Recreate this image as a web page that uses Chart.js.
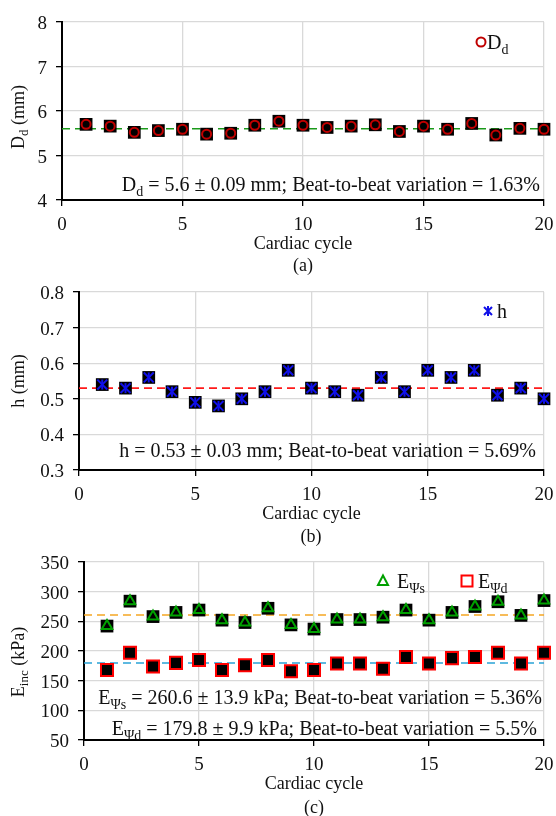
<!DOCTYPE html>
<html>
<head>
<meta charset="utf-8">
<script src="https://cdn.jsdelivr.net/npm/chart.js@4.4.1/dist/chart.umd.min.js"></script>
<style>
  html, body { margin: 0; padding: 0; background: #fff; }
  #page { position: relative; width: 556px; height: 816px; overflow: hidden;
          font-family: "Liberation Serif", "DejaVu Serif", serif; color: #111; }
  #page canvas { position: absolute; left: 0; }
  .lbl { position: absolute; font-size: 18px; line-height: 1; white-space: nowrap; }
  .lbl sub { font-size: 13px; vertical-align: -4px; line-height: 0; }
  .lbl.tick { font-size: 19px; }
  .lbl.note { font-size: 20px; }
  .lbl.note sub { font-size: 14px; vertical-align: -5px; }
  .mid { transform: translate(-50%, -50%); }
  .side { transform: translateY(-50%); }
  .ytitle { transform: translate(-50%, -50%) rotate(-90deg); }
  .key { position: absolute; transform: translate(-50%, -50%); }
</style>
</head>
<body>
<div id="page">
  <canvas id="chartA" width="556" height="254" style="top:0"></canvas>
  <canvas id="chartB" width="556" height="254" style="top:270px"></canvas>
  <canvas id="chartC" width="556" height="254" style="top:540px"></canvas>

  <!-- panel (a) -->
  <div class="lbl ytitle" style="left:18px;top:117px">D<sub>d</sub> (mm)</div>
  <svg class="key" style="left:481px;top:42px" width="14" height="14"><circle cx="7" cy="7" r="4.5" fill="#fff" stroke="#c00000" stroke-width="2"/></svg>
  <div class="lbl side note" style="left:487px;top:42px">D<sub>d</sub></div>
  <div class="lbl side note" id="noteA" style="right:16px;top:184px"></div>
  <div class="lbl mid" style="left:303px;top:265px">(a)</div>

  <!-- panel (b) -->
  <div class="lbl ytitle" style="left:18px;top:381px">h (mm)</div>
  <svg class="key" style="left:488px;top:311px" width="14" height="14"><path d="M3 3 L11 11 M11 3 L3 11 M7 2 L7 12" stroke="#1010e8" stroke-width="2"/></svg>
  <div class="lbl side note" style="left:497px;top:311px">h</div>
  <div class="lbl side note" id="noteB" style="right:20px;top:450px"></div>
  <div class="lbl mid" style="left:311px;top:536px">(b)</div>

  <!-- panel (c) -->
  <div class="lbl ytitle" style="left:18px;top:662px">E<sub>inc</sub> (kPa)</div>
  <svg class="key" style="left:383px;top:581px" width="16" height="16"><polygon points="8,2.5 13,12 3,12" fill="#fff" stroke="#00a000" stroke-width="2"/></svg>
  <div class="lbl side note" style="left:397px;top:581px">E<sub>&Psi;s</sub></div>
  <svg class="key" style="left:467px;top:581px" width="16" height="16"><rect x="2.5" y="2.5" width="11" height="11" fill="#fff" stroke="#ff0000" stroke-width="2"/></svg>
  <div class="lbl side note" style="left:478px;top:581px">E<sub>&Psi;d</sub></div>
  <div class="lbl side note" id="noteC1" style="right:14px;top:697px"></div>
  <div class="lbl side note" id="noteC2" style="right:19px;top:728px"></div>
  <div class="lbl mid" style="left:314px;top:807px">(c)</div>
</div>

<script>
// cardiac cycle index
const cycles = [1, 2, 3, 4, 5, 6, 7, 8, 9, 10, 11, 12, 13, 14, 15, 16, 17, 18, 19, 20];

// (a) diastolic diameter, mm
const diameter = [5.70, 5.66, 5.52, 5.56, 5.59, 5.48, 5.50, 5.68, 5.77, 5.68,
                  5.63, 5.66, 5.69, 5.54, 5.66, 5.59, 5.72, 5.46, 5.61, 5.59];
const diameterStats = { mean: 5.6, sd: 0.09, cv: 1.63 };

// (b) wall thickness, mm
const thickness = [0.54, 0.53, 0.56, 0.52, 0.49, 0.48, 0.50, 0.52, 0.58, 0.53,
                   0.52, 0.51, 0.56, 0.52, 0.58, 0.56, 0.58, 0.51, 0.53, 0.50];
const thicknessStats = { mean: 0.53, sd: 0.03, cv: 5.69 };

// (c) incremental modulus, kPa
const modulusSys = [242, 284, 258, 265, 269, 252, 248, 272, 244, 237,
                    253, 253, 257, 269, 252, 265, 275, 283, 260, 285];
const modulusDia = [168, 197, 174, 180, 185, 168, 176, 185, 166, 168,
                    179, 179, 170, 190, 179, 188, 190, 197, 179, 197];
const sysStats = { mean: 260.6, sd: 13.9, cv: 5.36 };
const diaStats = { mean: 179.8, sd: 9.9, cv: 5.5 };

const xTitle = 'Cardiac cycle';

const page = document.getElementById('page');
const points = (ys) => cycles.map((c, i) => ({ x: c, y: ys[i] }));
const meanLine = (v) => [{ x: 0, y: v }, { x: 20, y: v }];

function backing(ys) {
    return {
        data: points(ys),
        pointStyle: 'rect',
        pointRadius: 9,
        pointHoverRadius: 9,
        pointBackgroundColor: '#000',
        pointBorderWidth: 0,
        clip: false
    };
}

function marker(ys, style, color, radius, extra = {}) {
    return {
        data: points(ys),
        pointStyle: style,
        pointRadius: radius,
        pointHoverRadius: radius,
        pointBackgroundColor: '#000',
        pointBorderColor: color,
        pointBorderWidth: 2,
        clip: false,
        ...extra
    };
}

function dashed(value, color) {
    return {
        data: meanLine(value),
        showLine: true,
        borderColor: color,
        borderWidth: 1.6,
        borderDash: [8, 5],
        pointRadius: 0,
        pointHoverRadius: 0
    };
}

function addLabel(text, cls, style) {
    const el = document.createElement('div');
    el.className = 'lbl ' + cls;
    el.textContent = text;
    Object.assign(el.style, style);
    page.appendChild(el);
}

// tick labels as page text, placed from the chart's own scales
function labelAxes(chart, top) {
    const xs = chart.scales.x;
    const ys = chart.scales.y;
    xs.ticks.forEach((t) => {
        addLabel(t.label, 'tick mid', { left: xs.getPixelForValue(t.value) + 'px', top: (top + xs.top + 23) + 'px' });
    });
    ys.ticks.forEach((t) => {
        addLabel(t.label, 'tick side', { right: (556 - ys.right + 15) + 'px', top: (top + ys.getPixelForValue(t.value)) + 'px' });
    });
    const area = chart.chartArea;
    addLabel(xTitle, 'mid', { left: ((area.left + area.right) / 2) + 'px', top: (top + area.bottom + 43) + 'px' });
}

function makePanel(id, top, axisWidth, yMin, yMax, yStep, datasets) {
    const grid = { color: '#d9d9d9', lineWidth: 1.3, tickLength: 6, tickColor: '#000' };
    const chart = new Chart(document.getElementById(id), {
        type: 'scatter',
        data: { datasets },
        options: {
            responsive: false,
            animation: false,
            layout: { padding: { top: 22, right: 12, bottom: 0, left: 0 } },
            plugins: { legend: { display: false }, tooltip: { enabled: false } },
            scales: {
                x: {
                    type: 'linear',
                    min: 0,
                    max: 20,
                    afterFit: (s) => { s.height = 54; },
                    ticks: { stepSize: 5, display: false },
                    grid,
                    border: { color: '#000', width: 2 }
                },
                y: {
                    min: yMin,
                    max: yMax,
                    afterFit: (s) => { s.width = axisWidth; },
                    ticks: { stepSize: yStep, display: false },
                    grid,
                    border: { color: '#000', width: 2 }
                }
            }
        }
    });
    labelAxes(chart, top);
    return chart;
}

// earlier datasets are drawn on top
makePanel('chartA', 0, 62, 4, 8, 1, [
    marker(diameter, 'circle', '#c00000', 4.5),
    backing(diameter),
    dashed(diameterStats.mean, '#1a9a1a')
]);

makePanel('chartB', 270, 79, 0.3, 0.8, 0.1, [
    marker(thickness, 'crossRot', '#1010e8', 7),
    marker(thickness, 'line', '#1010e8', 5, { pointRotation: 90 }),
    backing(thickness),
    dashed(thicknessStats.mean, '#ff1a1a')
]);

makePanel('chartC', 540, 84, 50, 350, 50, [
    marker(modulusSys, 'triangle', '#00a000', 6),
    backing(modulusSys),
    marker(modulusDia, 'rect', '#ff0000', 8.5),
    dashed(sysStats.mean, '#f5a623'),
    dashed(diaStats.mean, '#29a3d6')
]);

// summary notes
document.getElementById('noteA').innerHTML =
    `D<sub>d</sub> = ${diameterStats.mean} ± ${diameterStats.sd} mm; Beat-to-beat variation = ${diameterStats.cv}%`;
document.getElementById('noteB').innerHTML =
    `h = ${thicknessStats.mean} ± ${thicknessStats.sd} mm; Beat-to-beat variation = ${thicknessStats.cv}%`;
document.getElementById('noteC1').innerHTML =
    `E<sub>&Psi;s</sub> = ${sysStats.mean} ± ${sysStats.sd} kPa; Beat-to-beat variation = ${sysStats.cv}%`;
document.getElementById('noteC2').innerHTML =
    `E<sub>&Psi;d</sub> = ${diaStats.mean} ± ${diaStats.sd} kPa; Beat-to-beat variation = ${diaStats.cv}%`;
</script>
</body>
</html>
